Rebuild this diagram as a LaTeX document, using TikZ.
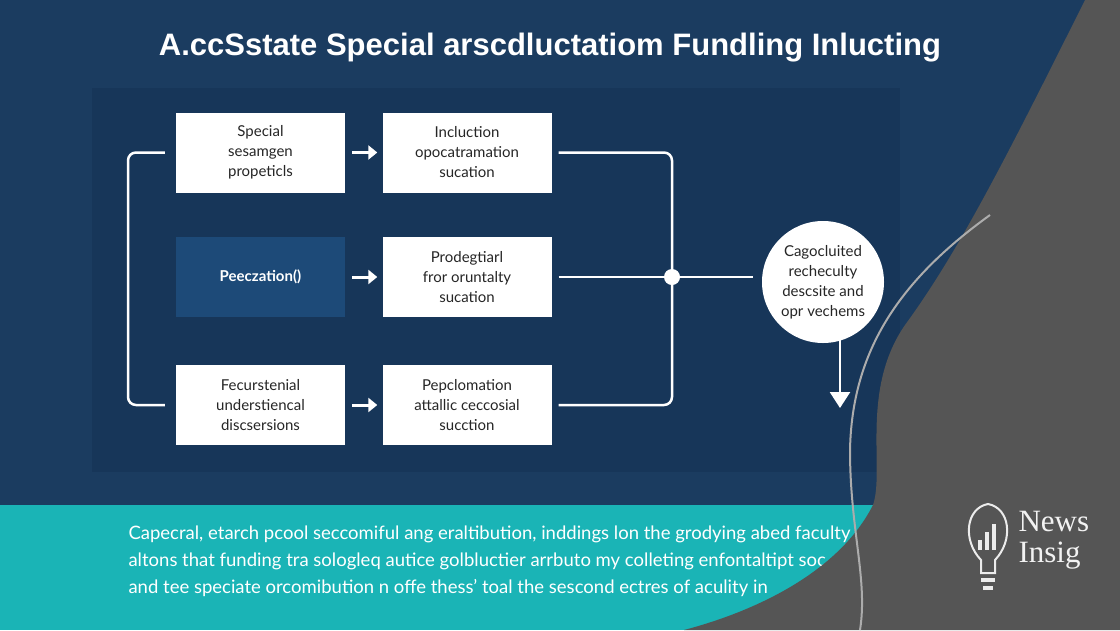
\documentclass[tikz,border=0pt]{standalone}
\usepackage{fontspec}
\setmainfont{Lato}
\newfontfamily\titlefont{Liberation Sans}
\newfontfamily\logofont{Liberation Serif}
\usetikzlibrary{arrows.meta}
\definecolor{navy}{HTML}{1B3C60}
\definecolor{panel}{HTML}{173659}
\definecolor{darkbox}{HTML}{1D4A78}
\definecolor{teal}{HTML}{1AB4B6}
\definecolor{slate}{HTML}{555555}
\tikzset{
  wbox/.style={fill=white, minimum width=169pt, minimum height=80pt, align=center, font=\fontsize{15}{20}\selectfont, text=black!85},
  dbox/.style={fill=darkbox, minimum width=169pt, minimum height=80pt, align=center, font=\fontsize{15}{20}\selectfont\bfseries, text=white},
  conn/.style={white, line width=2.5pt, rounded corners=8pt},
  harrow/.style={white, line width=3pt, -{Triangle[length=9pt,width=14pt]}},
  para/.style={anchor=west, text=white, font=\fontsize{18.5}{20}\selectfont},
}
\begin{document}
\begin{tikzpicture}[x=1pt,y=-1pt]
\useasboundingbox (0,0) rectangle (1120,630);
\fill[navy] (0,0) rectangle (1120,505);
\fill[teal] (0,505) rectangle (1120,630);
\fill[panel] (92,88) rectangle (900,472);
\node[text=white, font=\titlefont\fontsize{31}{34}\selectfont\bfseries] (title) at (550,48) {A.ccSstate Special arscdluctatiom Fundling Inlucting};
\node[wbox] (b1) at (260.5,152.5) {Special\\sesamgen\\propeticls};
\node[wbox] (b2) at (467,152.5) {Incluction\\opocatramation\\sucation};
\node[dbox] (b3) at (260.5,277) {Peeczation()};
\node[wbox] (b4) at (467,277) {Prodegtiarl\\fror oruntalty\\sucation};
\node[wbox] (b5) at (260.5,405) {Fecurstenial\\understiencal\\discsersions};
\node[wbox] (b6) at (467,405) {Pepclomation\\attallic ceccosial\\sucction};
\draw[harrow] ([xshift=7pt]b1.east) -- ([xshift=-5pt]b2.west);
\draw[harrow] ([xshift=7pt]b3.east) -- ([xshift=-5pt]b4.west);
\draw[harrow] ([xshift=7pt]b5.east) -- ([xshift=-5pt]b6.west);
\draw[conn] ([xshift=-11pt]b1.west) -- (128,152.5) -- (128,405) -- ([xshift=-11pt]b5.west);
\draw[conn] ([xshift=7pt]b2.east) -- (672,152.5) -- (672,405) -- ([xshift=7pt]b6.east);
\coordinate (jn) at (672,277);
\node[circle, fill=white, minimum size=16pt, inner sep=0pt] (dot) at (jn) {};
\node[circle, fill=white, minimum size=122pt, inner sep=0pt, align=center, font=\fontsize{15}{20}\selectfont, text=black!85] (res) at (823,282) {Cagocluited\\recheculty\\descsite and\\opr vechems};
\draw[white, line width=2.5pt] ([xshift=7pt]b4.east) -- (753,277);
\coordinate (down) at (840,408);
\draw[white, line width=2.5pt, -{Triangle[length=16pt,width=20pt]}] (840,340) -- (down);
\node[para] (t1) at (125,534) {Capecral, etarch pcool seccomiful ang eraltibution, inddings lon the grodying abed faculty};
\node[para] (t2) at (125,561) {altons that funding tra sologleq autice golbluctier arrbuto my colleting enfontaltipt soc};
\node[para] (t3) at (125,588) {and tee speciate orcomibution n offe thess' toal the sescond ectres of aculity in};
\fill[slate] (1085,0) .. controls (1010,150) and (960,250) .. (905,325) .. controls (860,390) and (885,470) .. (873,505) .. controls (840,570) and (760,610) .. (684,630) -- (1120,630) -- (1120,0) -- cycle;
\draw[gray!65, line width=2pt] (990,215) .. controls (900,280) and (852,350) .. (850,450) .. controls (850,530) and (868,580) .. (860,630);
\draw[white!85!gray, line width=2pt] (981,560) .. controls (962,540) and (966,508) .. (988,504) .. controls (1010,508) and (1014,540) .. (995,560) -- (995,573) -- (981,573) -- cycle;
\fill[white!85!gray] (981,578) rectangle (995,582);
\fill[white!85!gray] (983,586) rectangle (993,590);
\fill[white!85!gray] (978,540) rectangle (982,550);
\fill[white!85!gray] (985,532) rectangle (989,550);
\fill[white!85!gray] (992,524) rectangle (996,550);
\node[anchor=west, align=left, text=white!90!gray, font=\logofont\fontsize{31}{31}\selectfont] (logo) at (1015,540) {News\\Insig};
\end{tikzpicture}
\end{document}
